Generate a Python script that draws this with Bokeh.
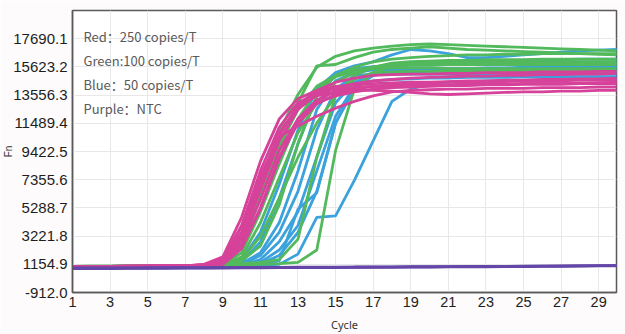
from bokeh.plotting import figure
from bokeh.models import Range1d, FixedTicker, Label
from bokeh.embed import file_html
from bokeh.resources import INLINE

cycles = list(range(1, 31))

y_ticks = [-912.0, 1154.9, 3221.8, 5288.7, 7355.6, 9422.5, 11489.4, 13556.3, 15623.2, 17690.1]
y_tick_labels = ["-912.0", "1154.9", "3221.8", "5288.7", "7355.6", "9422.5", "11489.4", "13556.3", "15623.2", "17690.1"]
x_ticks = [1, 3, 5, 7, 9, 11, 13, 15, 17, 19, 21, 23, 25, 27, 29]

legend_lines = ["Red：250 copies/T", "Green:100 copies/T", "Blue：50 copies/T", "Purple：NTC"]

red_curves = [
    [1000, 1000, 1010, 1010, 1020, 1030, 1040, 1150, 1700, 4600, 8700, 11800, 13300, 13900, 14200, 14300, 14400, 14450, 14500, 14500, 14550, 14600, 14600, 14650, 14650, 14700, 14700, 14750, 14750, 14800],
    [1000, 1000, 1010, 1020, 1020, 1030, 1040, 1120, 1500, 4000, 8000, 11200, 13000, 13700, 14000, 14100, 14200, 14200, 14250, 14250, 14300, 14300, 14350, 14350, 14400, 14400, 14400, 14450, 14450, 14500],
    [990, 995, 1000, 1005, 1010, 1020, 1030, 1080, 1400, 3500, 7300, 10800, 12700, 13500, 13800, 13900, 13900, 13850, 13750, 13650, 13600, 13650, 13700, 13750, 13800, 13800, 13850, 13850, 13900, 13900],
    [1000, 1005, 1010, 1015, 1020, 1030, 1040, 1060, 1300, 3000, 6600, 10200, 12500, 13600, 14100, 14400, 14600, 14700, 14800, 14850, 14900, 14950, 14950, 15000, 15000, 15050, 15050, 15100, 15100, 15150],
    [995, 1000, 1005, 1010, 1015, 1025, 1035, 1050, 1250, 2700, 5900, 9500, 11800, 13000, 13500, 13800, 14000, 14100, 14150, 14200, 14250, 14250, 14300, 14300, 14350, 14350, 14350, 14400, 14400, 14400],
    [1000, 1000, 1005, 1010, 1020, 1030, 1040, 1100, 1600, 3900, 7600, 10500, 11300, 12000, 12600, 13100, 13500, 13800, 13900, 13950, 14000, 14000, 14050, 14050, 14050, 14100, 14100, 14100, 14150, 14150],
    [1000, 1005, 1010, 1015, 1020, 1025, 1035, 1040, 1200, 2400, 5200, 8900, 11500, 12900, 13600, 14000, 14200, 14300, 14400, 14450, 14500, 14500, 14550, 14550, 14600, 14600, 14600, 14650, 14650, 14650],
    [990, 995, 1000, 1010, 1015, 1020, 1030, 1040, 1150, 2300, 5300, 9000, 11800, 13200, 13800, 14100, 14200, 14250, 14300, 14300, 14300, 14350, 14350, 14350, 14400, 14400, 14400, 14400, 14450, 14450],
    [1000, 1005, 1010, 1020, 1025, 1035, 1045, 1150, 1300, 3200, 7000, 10600, 12800, 13900, 14500, 14800, 15000, 15050, 15100, 15100, 15150, 15150, 15200, 15200, 15200, 15250, 15250, 15250, 15300, 15300],
]

green_curves = [
    [1010, 1015, 1020, 1025, 1030, 1040, 1050, 1100, 1400, 3400, 7200, 10900, 13600, 15600, 16400, 16800, 17000, 17150, 17250, 17300, 17250, 17200, 17150, 17100, 17050, 17000, 16950, 16900, 16850, 16800],
    [1010, 1015, 1020, 1025, 1030, 1035, 1045, 1080, 1300, 3000, 6200, 9500, 13000, 15700, 15800, 16300, 16700, 16900, 17000, 17100, 17000, 16900, 16850, 16800, 16750, 16700, 16650, 16600, 16550, 16500],
    [1000, 1005, 1010, 1015, 1020, 1030, 1040, 1060, 1200, 2500, 6000, 9800, 12500, 14200, 15000, 15400, 15600, 15700, 15750, 15750, 15800, 15800, 15800, 15800, 15800, 15800, 15800, 15800, 15800, 15800],
    [1000, 1005, 1010, 1015, 1020, 1025, 1035, 1050, 1150, 2000, 5000, 8500, 11800, 13900, 14900, 15300, 15500, 15550, 15550, 15550, 15500, 15500, 15500, 15500, 15500, 15500, 15500, 15500, 15500, 15500],
    [1000, 1000, 1005, 1010, 1015, 1025, 1030, 1045, 1100, 1700, 4200, 7500, 10800, 13000, 14500, 15200, 15600, 15900, 16000, 16050, 16100, 16100, 16150, 16150, 16150, 16200, 16200, 16200, 16200, 16200],
    [1000, 1000, 1005, 1010, 1015, 1020, 1030, 1040, 1080, 1500, 3200, 6000, 9000, 11500, 13500, 14700, 15200, 15250, 15300, 15300, 15300, 15300, 15300, 15300, 15300, 15300, 15300, 15300, 15300, 15300],
    [1005, 1010, 1010, 1015, 1020, 1025, 1030, 1040, 1060, 1200, 1300, 1500, 3000, 9000, 13500, 15000, 15600, 15800, 15900, 15950, 16000, 16000, 16000, 16000, 16000, 16000, 16000, 16000, 16000, 16000],
    [1005, 1010, 1010, 1015, 1020, 1025, 1030, 1035, 1050, 1100, 1150, 1200, 1300, 2200, 9500, 14000, 15200, 15700, 15800, 15850, 15900, 15900, 15900, 15900, 15900, 15900, 15900, 15900, 15900, 15900],
    [1000, 1005, 1010, 1015, 1020, 1025, 1030, 1040, 1100, 1400, 2500, 5500, 10000, 13500, 15000, 15600, 16000, 16200, 16300, 16400, 16450, 16500, 16500, 16550, 16550, 16600, 16600, 16600, 16600, 16600],
]

blue_curves = [
    [990, 995, 1000, 1005, 1010, 1015, 1020, 1030, 1100, 1500, 3500, 7000, 11000, 14000, 15200, 15700, 16000, 16500, 16900, 16800, 16600, 16300, 16300, 16400, 16500, 16600, 16700, 16800, 16850, 16900],
    [990, 995, 1000, 1005, 1010, 1015, 1020, 1030, 1080, 1300, 2800, 6000, 10000, 13500, 15000, 15500, 15650, 15700, 15750, 15750, 15800, 15800, 15800, 15800, 15800, 15800, 15800, 15800, 15800, 15800],
    [990, 995, 1000, 1005, 1010, 1015, 1020, 1025, 1050, 1200, 2000, 4200, 8000, 12500, 14600, 15200, 15400, 15450, 15500, 15500, 15500, 15500, 15500, 15500, 15500, 15500, 15500, 15500, 15500, 15500],
    [990, 995, 1000, 1005, 1010, 1015, 1020, 1025, 1040, 1150, 1800, 3500, 6500, 11000, 14000, 15000, 15100, 15100, 15100, 15100, 15100, 15100, 15100, 15100, 15100, 15100, 15100, 15100, 15100, 15100],
    [990, 995, 1000, 1005, 1010, 1015, 1020, 1025, 1035, 1100, 1500, 2800, 5000, 9000, 13000, 14500, 15000, 15200, 15250, 15300, 15300, 15300, 15300, 15300, 15300, 15300, 15300, 15300, 15300, 15300],
    [990, 995, 1000, 1005, 1010, 1015, 1020, 1025, 1030, 1060, 1200, 1800, 3500, 6500, 11500, 14000, 15000, 15600, 15800, 15900, 16000, 16000, 16050, 16100, 16100, 16150, 16150, 16200, 16200, 16200],
    [990, 995, 1000, 1005, 1010, 1015, 1020, 1025, 1030, 1050, 1100, 1150, 1900, 4600, 4700, 7300, 10200, 13100, 14000, 14400, 14500, 14550, 14600, 14600, 14650, 14650, 14700, 14700, 14700, 14700],
    [990, 995, 1000, 1005, 1010, 1015, 1020, 1025, 1030, 1060, 1150, 1400, 5200, 6400, 11500, 14200, 15000, 15300, 15400, 15450, 15500, 15500, 15550, 15550, 15600, 15600, 15600, 15600, 15600, 15600],
    [990, 995, 1000, 1005, 1010, 1015, 1020, 1025, 1030, 1080, 1300, 2200, 4000, 8000, 12000, 14200, 14600, 14700, 14750, 14800, 14800, 14850, 14850, 14850, 14900, 14900, 14900, 14900, 14900, 14900],
]

purple_curves = [
    [820, 825, 830, 835, 840, 850, 855, 860, 870, 875, 880, 890, 895, 900, 905, 910, 920, 925, 930, 940, 945, 950, 960, 965, 975, 985, 995, 1010, 1020, 1030],
    [850, 855, 860, 865, 870, 875, 880, 885, 895, 900, 905, 910, 920, 925, 930, 935, 945, 950, 955, 960, 970, 975, 985, 990, 1000, 1010, 1020, 1030, 1040, 1050],
    [880, 880, 885, 890, 895, 900, 905, 910, 915, 920, 925, 930, 935, 940, 950, 955, 960, 965, 970, 980, 985, 990, 1000, 1005, 1015, 1025, 1035, 1045, 1055, 1065],
    [900, 905, 905, 910, 915, 920, 925, 930, 935, 940, 945, 950, 955, 960, 965, 970, 980, 985, 990, 995, 1000, 1010, 1015, 1020, 1030, 1040, 1050, 1060, 1070, 1080],
]

RED = "#d6429a"
GREEN = "#52b95c"
BLUE = "#3ba2dc"
PURPLE = "#6447a8"

p = figure(width=625, height=334, output_backend="svg", toolbar_location=None,
           x_range=Range1d(1, 29.95), y_range=Range1d(-912.0, 19757.0),
           min_border_left=72, min_border_right=9, min_border_top=10, min_border_bottom=42)

p.background_fill_color = "white"
p.border_fill_color = "#fdfbfb"
p.outline_line_color = "#5a5a5a"
p.outline_line_width = 1.5

for ys in blue_curves:
    p.line(cycles, ys, line_color=BLUE, line_width=2.8)
for ys in green_curves:
    p.line(cycles, ys, line_color=GREEN, line_width=2.8)
for ys in red_curves:
    p.line(cycles, ys, line_color=RED, line_width=2.8)
for ys in purple_curves:
    p.line(cycles, ys, line_color=PURPLE, line_width=2.4)

p.yaxis.ticker = FixedTicker(ticks=y_ticks)
p.yaxis.major_label_overrides = {t: s for t, s in zip(y_ticks, y_tick_labels)}
p.xaxis.ticker = FixedTicker(ticks=x_ticks)

for ax in (p.xaxis[0], p.yaxis[0]):
    ax.axis_line_color = "#5a5a5a"
    ax.axis_line_width = 1.5
    ax.major_tick_in = 0
    ax.major_tick_out = 0
    ax.minor_tick_line_color = None
    ax.major_label_text_font = "Liberation Sans"
    ax.major_label_text_color = "#1e1e1e"
    ax.axis_label_text_font_style = "normal"
    ax.axis_label_text_color = "#333333"

p.yaxis.major_label_text_font_size = "15px"
p.xaxis.major_label_text_font_size = "14.5px"
p.yaxis.major_label_standoff = 5
p.xaxis.major_label_standoff = 4

p.yaxis.axis_label = "Fn"
p.yaxis.axis_label_text_font = "Liberation Sans"
p.yaxis.axis_label_text_font_size = "10px"
p.yaxis.axis_label_standoff = -4

p.xaxis.axis_label = "Cycle"
p.xaxis.axis_label_text_font = "Noto Sans"
p.xaxis.axis_label_text_font_size = "11px"
p.xaxis.axis_label_standoff = 7

p.grid.grid_line_color = "#e8e8e8"
p.grid.grid_line_width = 1

leg_y = [256, 232, 208, 184]
for txt, yy in zip(legend_lines, leg_y):
    p.add_layout(Label(x=11, y=yy, x_units="screen", y_units="screen", text=txt,
                       text_font="Noto Sans CJK SC", text_font_size="13px",
                       text_color="#5a5a5a", text_baseline="middle"))

open("out.html", "w").write(file_html(p, INLINE))
